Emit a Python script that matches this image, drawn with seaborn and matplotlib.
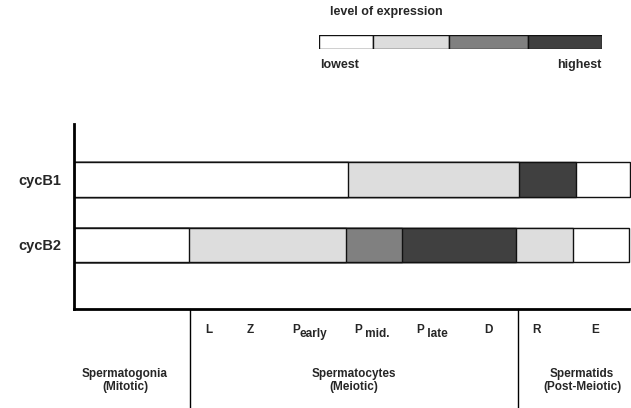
import pandas as pd
import seaborn as sns
import matplotlib.pyplot as plt

# expression levels and their shades
levels = ['lowest', 'low', 'high', 'highest']
level_colors = ['#ffffff', '#dddddd', '#808080', '#404040']

genes = ['cycB1', 'cycB2']
# segment ends along the timeline (same units as the x axis) and level of each segment
cycB1_ends = [274, 445, 502, 556]
cycB1_levels = ['lowest', 'low', 'highest', 'lowest']
cycB2_ends = [115, 272, 328, 442, 499, 555]
cycB2_levels = ['lowest', 'low', 'high', 'highest', 'low', 'lowest']

# sub-stages of meiosis / spermiogenesis along the same timeline
stage_main = ['L', 'Z', 'P', 'P', 'P', 'D', 'R', 'E']
stage_sub = ['', '', 'early', ' mid.', ' late', '', '', '']
stage_pos = [131, 173, 218, 280, 342, 410, 458, 517]
phase_labels = ['Spermatogonia\n(Mitotic)', 'Spermatocytes\n(Meiotic)',
                'Spermatids\n(Post-Meiotic)']
phase_pos = [51, 280, 508]
phase_bounds = [116, 444]

# legend bar segment widths
legend_widths = [54, 76, 79, 74]

rows = []
for gene, ends, lv in [('cycB1', cycB1_ends, cycB1_levels), ('cycB2', cycB2_ends, cycB2_levels)]:
    for i, (e, l) in enumerate(zip(ends, lv)):
        rows.append({'gene': gene, 'seg': i, 'end': e, 'level': l})
df = pd.DataFrame(rows)

sns.set_style('white')
plt.rcParams['font.family'] = ['Liberation Sans', 'DejaVu Sans']
plt.rcParams['font.weight'] = 'bold'

fig = plt.figure(figsize=(6.31, 4.08), dpi=100)
ax = fig.add_axes([74 / 631, 1 - 309 / 408, 557 / 631, 185 / 408])

palette = dict(zip(levels, level_colors))
# draw the segments back to front so shorter bars sit on top
for k in sorted(df['seg'].unique(), reverse=True):
    sub = df[df['seg'] == k]
    sns.barplot(data=sub, x='end', y='gene', hue='level', palette=palette,
                hue_order=levels, order=genes, dodge=False, orient='h',
                width=0.53, edgecolor='#111111', linewidth=1.0,
                legend=False, ax=ax)

ax.set_xlim(0, 557)
ax.set_ylim(1.977, -0.847)
ax.set_xlabel('')
ax.set_ylabel('')
ax.set_xticks([])
ax.tick_params(axis='y', length=0, pad=9, labelsize=10.5)
for t in ax.get_yticklabels():
    t.set_fontweight('bold')
sns.despine(ax=ax)
for s in ['left', 'bottom']:
    ax.spines[s].set_linewidth(2)
    ax.spines[s].set_color('black')

# stage section below the axis
xt = ax.get_xaxis_transform()
for b in phase_bounds:
    ax.plot([b, b], [0, -0.54], color='black', lw=1.0, transform=xt, clip_on=False)
for m, s, x in zip(stage_main, stage_sub, stage_pos):
    t = ax.text(x, -21 / 185, m, transform=xt, ha='left', va='center',
                fontsize=8.5, fontweight='bold')
    if s:
        ax.annotate(s, xy=(1, 0), xycoords=t, xytext=(0, -3),
                    textcoords='offset points', ha='left', va='bottom',
                    fontsize=8.5, fontweight='bold')
for lab, x in zip(phase_labels, phase_pos):
    ax.text(x, -71.5 / 185, lab, transform=xt, ha='center', va='center',
            fontsize=8.5, fontweight='bold', linespacing=1.1)

# legend bar
leg = fig.add_axes([319 / 631, 1 - 49 / 408, 283 / 631, 14 / 408])
lefts = [sum(legend_widths[:i]) for i in range(len(legend_widths))]
leg.barh(0, legend_widths, left=lefts, color=level_colors, height=1,
         edgecolor='#111111', linewidth=1.0)
leg.set_xlim(0, sum(legend_widths))
leg.set_ylim(-0.5, 0.5)
leg.axis('off')
fig.text(330 / 631, 1 - 12 / 408, 'level of expression', ha='left', va='center',
         fontsize=9, fontweight='bold')
fig.text(320 / 631, 1 - 65 / 408, 'lowest', ha='left', va='center',
         fontsize=9, fontweight='bold')
fig.text(602 / 631, 1 - 65 / 408, 'highest', ha='right', va='center',
         fontsize=9, fontweight='bold')

fig.savefig('out.png', dpi=100)
